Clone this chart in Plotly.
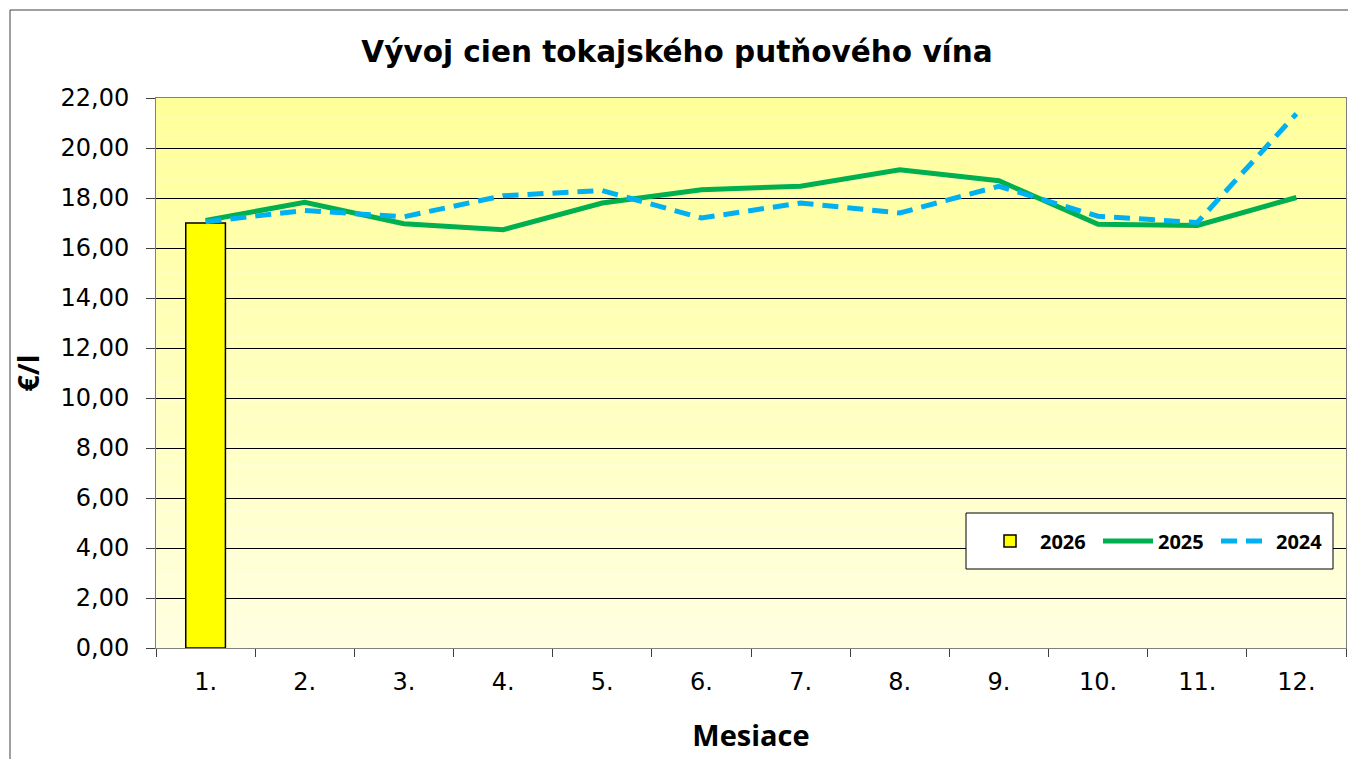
import plotly.graph_objects as go

months = ["1.", "2.", "3.", "4.", "5.", "6.", "7.", "8.", "9.", "10.", "11.", "12."]
y2026 = [17.00]
y2025 = [17.10, 17.83, 16.97, 16.73, 17.80, 18.33, 18.47, 19.13, 18.69, 16.95, 16.90, 18.02]
y2024 = [17.05, 17.50, 17.25, 18.09, 18.30, 17.20, 17.80, 17.40, 18.47, 17.27, 17.02, 21.37]

W, H = 1348, 759
L, R, T, B = 156, 2, 98, 111
pw, ph = W - L - R, H - T - B

def px_x(x):
    return (x - L) / pw

def px_y(y):
    return (H - B - y) / ph

fig = go.Figure()
fig.add_trace(go.Bar(x=months[:len(y2026)], y=y2026, name="<b>2026</b>",
                     marker=dict(color="#FFFF00", line=dict(color="black", width=1.5)),
                     width=0.4))
fig.add_trace(go.Scatter(x=months, y=y2025, name="<b>2025</b>", mode="lines",
                         line=dict(color="#00B050", width=5)))
fig.add_trace(go.Scatter(x=months, y=y2024, name="<b>2024</b>", mode="lines",
                         line=dict(color="#00B0F0", width=5, dash="16px,9px")))

# gradient background of the plot area
shapes = []
n = 60
c0 = (255, 255, 153)
c1 = (255, 255, 224)
for i in range(n):
    f = i / (n - 1)
    col = tuple(round(c0[k] + (c1[k] - c0[k]) * f) for k in range(3))
    shapes.append(dict(type="rect", xref="paper", yref="paper",
                       x0=0, x1=1, y0=1 - (i + 1) / n, y1=1 - i / n,
                       fillcolor="rgb(%d,%d,%d)" % col, line=dict(width=0), layer="below"))
# outer chart frame
shapes.append(dict(type="rect", xref="paper", yref="paper",
                   x0=px_x(10), x1=px_x(W + 5), y0=px_y(H + 5), y1=px_y(10),
                   line=dict(color="#404040", width=1), fillcolor="rgba(0,0,0,0)"))
# legend box
shapes.append(dict(type="rect", xref="paper", yref="paper",
                   x0=px_x(966), x1=px_x(1333), y0=px_y(569), y1=px_y(513),
                   line=dict(color="black", width=1), fillcolor="white", layer="above"))

fig.update_layout(
    width=W, height=H,
    margin=dict(l=L, r=R, t=T, b=B),
    paper_bgcolor="white",
    plot_bgcolor="rgba(0,0,0,0)",
    separators=", ",
    font=dict(family="DejaVu Sans", color="black"),
    title=dict(text="<b>Vývoj cien tokajského putňového vína</b>", x=677 / W, xanchor="center",
               xref="container", y=1 - 52 / H, yanchor="middle",
               font=dict(size=29.5, family="DejaVu Sans")),
    shapes=shapes,
    showlegend=True,
    legend=dict(orientation="h", x=px_x(980), y=px_y(541),
                xanchor="left", yanchor="middle", bgcolor="rgba(0,0,0,0)",
                borderwidth=0,
                font=dict(size=20, family="Open Sans", color="black"),
                traceorder="normal", itemwidth=50, entrywidth=53),
)
fig.update_xaxes(type="category", range=[-0.5, len(months) - 0.5],
                 tickson="boundaries", ticks="outside", ticklen=8,
                 tickcolor="#404040", showline=True, linecolor="#808080", linewidth=1,
                 mirror=True, showgrid=False, tickfont=dict(size=24, family="DejaVu Sans"),
                 ticklabelstandoff=12, automargin=False,
                 title=dict(text="<b>Mesiace</b>", font=dict(size=29, family="Open Sans"),
                            standoff=30))
fig.update_yaxes(range=[0, 22], dtick=2, tickformat=".2f", ticks="outside", ticklen=9,
                 tickcolor="#404040", showline=True, linecolor="#808080", linewidth=1,
                 mirror=True, showgrid=True, gridcolor="black", gridwidth=1,
                 zeroline=False, tickfont=dict(size=24, family="DejaVu Sans"),
                 ticklabelstandoff=12, automargin=False,
                 title=dict(text="<b>€/l</b>", font=dict(size=29, family="Open Sans"),
                            standoff=12))

fig.write_html("out.html", config={"displayModeBar": False},
               post_script="document.body.style.margin='0px';")
